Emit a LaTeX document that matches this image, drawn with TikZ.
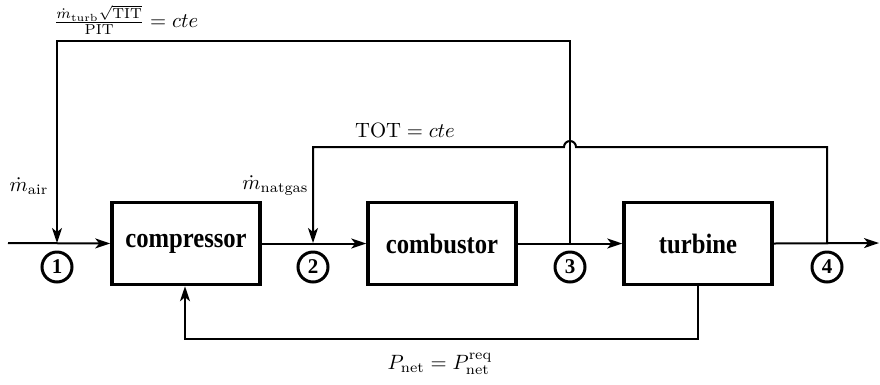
\documentclass[tikz,border=0pt]{standalone}
\usepackage{fontspec}
\usepackage{amsmath}
\usetikzlibrary{arrows.meta}
\newfontfamily\boxfont[FakeStretch=0.88]{Liberation Serif}
\newfontfamily\numfont{Liberation Serif}
\tikzset{
  blockbox/.style={draw, line width=3.5pt, minimum width=148pt, minimum height=82pt, inner sep=0pt,
    font=\boxfont\bfseries\fontsize{28}{30}\selectfont},
  station/.style={draw, circle, line width=3pt, minimum size=30pt, inner sep=0pt,
    font=\numfont\bfseries\fontsize{21}{22}\selectfont},
  flow/.style={line width=2pt, -{Stealth[length=15pt,width=10pt,inset=4pt]}},
  mathlbl/.style={font=\fontsize{10}{12}\selectfont, inner sep=0pt, scale=2.07}
}
\begin{document}
\begin{tikzpicture}[x=1pt,y=-1pt]
\useasboundingbox (0,0) rectangle (880,384);
% blocks
\node[blockbox] (comp) at (186,243.5) {compressor};
\node[blockbox] (comb) at (442,243.5) {combustor};
\node[blockbox] (turb) at (698,243.5) {turbine};
% stations
\coordinate (in) at (8,243);
\coordinate (out) at (879,243);
\coordinate (p1) at (57,243);
\coordinate (p2) at (313,243);
\coordinate (p3) at (570,243);
\coordinate (p4) at (827,243);
\node[station] (s1) at (57,267) {1};
\node[station] (s2) at (313,267) {2};
\node[station] (s3) at (570,267) {3};
\node[station] (s4) at (827,267) {4};
% main flow
\draw[flow] (in) -- (comp.west);
\draw[flow] (comp.east) -- (comb.west);
\draw[flow] (comb.east) -- (turb.west);
\draw[flow] (turb.east) -- (out);
% top loop
\coordinate (t3) at (570,41);
\coordinate (t1) at (57,41);
\draw[flow] (p3) -- (t3) -- (t1) -- (p1);
% TOT loop with hop
\coordinate (u4) at (827,147);
\coordinate (hopR) at (576,147);
\coordinate (u2) at (313,147);
\draw[flow] (p4) -- (u4) -- (hopR) arc[start angle=0, end angle=-180, radius=6] -- (u2) -- (p2);
% bottom loop
\coordinate (b4) at (698,339);
\coordinate (b1) at (185,339);
\draw[flow] (turb.south) -- (b4) -- (b1) -- (comp.south -| b1);
% labels
\node[mathlbl] (lf) at (126,20) {$\frac{\dot m_{\mathrm{turb}}\sqrt{\mathrm{TIT}}}{\mathrm{PIT}} = cte$};
\node[mathlbl] (la) at (29,186) {$\dot m_{\mathrm{air}}$};
\node[mathlbl, anchor=east] (ln) at (309,186) {$\dot m_{\mathrm{natgas}}$};
\node[mathlbl] (lt) at (405,130) {$\mathrm{TOT} = cte$};
\node[mathlbl] (lp) at (440,364) {$P_{\mathrm{net}} = P_{\mathrm{net}}^{\mathrm{req}}$};
\end{tikzpicture}
\end{document}
